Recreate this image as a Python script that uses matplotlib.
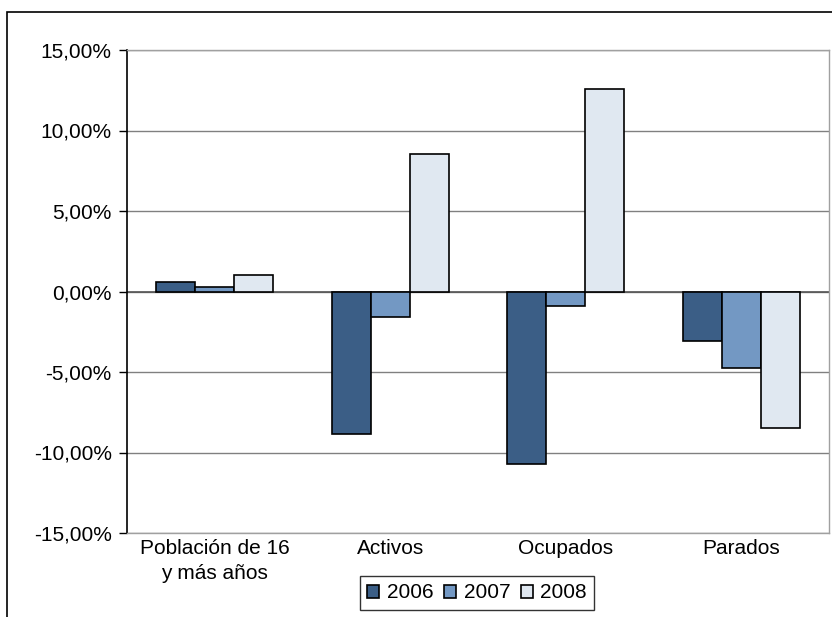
import matplotlib.pyplot as plt
import numpy as np
from matplotlib.patches import Patch, Rectangle

plt.rcParams['font.family'] = ['Liberation Sans', 'DejaVu Sans']

categorias = ["Población de 16\ny más años", "Activos", "Ocupados", "Parados"]
anios = ["2006", "2007", "2008"]
v2006 = [0.56, -8.88, -10.70, -3.10]
v2007 = [0.30, -1.60, -0.87, -4.78]
v2008 = [1.05, 8.57, 12.55, -8.45]
colores = ["#3B5E86", "#7398C3", "#E0E8F1"]

fig = plt.figure(figsize=(8.32, 6.17), dpi=100)
# marco exterior (recortado a la derecha y abajo)
fig.patches.append(Rectangle((7 / 832, -0.1), 2, (605 / 617) + 0.1, transform=fig.transFigure,
                             fill=False, edgecolor="black", linewidth=1.2))

ax = fig.add_axes([127 / 832, 1 - 533 / 617, 702 / 832, 483 / 617])

x = np.arange(len(categorias))
ancho = 0.222
for i, (serie, col) in enumerate(zip([v2006, v2007, v2008], colores)):
    ax.bar(x + (i - 1) * ancho, serie, ancho, color=col, edgecolor="black",
           linewidth=1.2, zorder=3, label=anios[i])

ax.set_xlim(-0.5, 3.5)
ax.set_ylim(-15, 15)
ticks = np.arange(-15, 16, 5)
ax.set_yticks(ticks)
ax.set_yticklabels([f"{t:.2f}".replace(".", ",") + "%" for t in ticks])
ax.yaxis.grid(True, color="#808080", linewidth=1, zorder=0)
ax.axhline(0, color="#555555", linewidth=1.2, zorder=2)

ax.set_xticks(x)
ax.set_xticklabels(categorias, linespacing=1.4)
ax.tick_params(axis="x", length=0, pad=4, labelsize=15)
ax.tick_params(axis="y", direction="out", length=6, width=1, labelsize=15, pad=5)

for s in ["top", "right", "bottom"]:
    ax.spines[s].set_color("#A0A0A0")
    ax.spines[s].set_linewidth(1)
ax.spines["left"].set_color("black")
ax.spines["left"].set_linewidth(1.2)

handles = [Patch(facecolor=c, edgecolor="black", linewidth=1.2) for c in colores]
leg = fig.legend(handles, anios, loc="center", bbox_to_anchor=(477 / 832, 1 - 593 / 617),
                 ncol=3, fontsize=15, frameon=True, fancybox=False, edgecolor="black",
                 handlelength=0.6, handleheight=0.6, handletextpad=0.35, columnspacing=0.5,
                 borderpad=0.35)
leg.get_frame().set_linewidth(1)

fig.savefig("out.png", dpi=100)
